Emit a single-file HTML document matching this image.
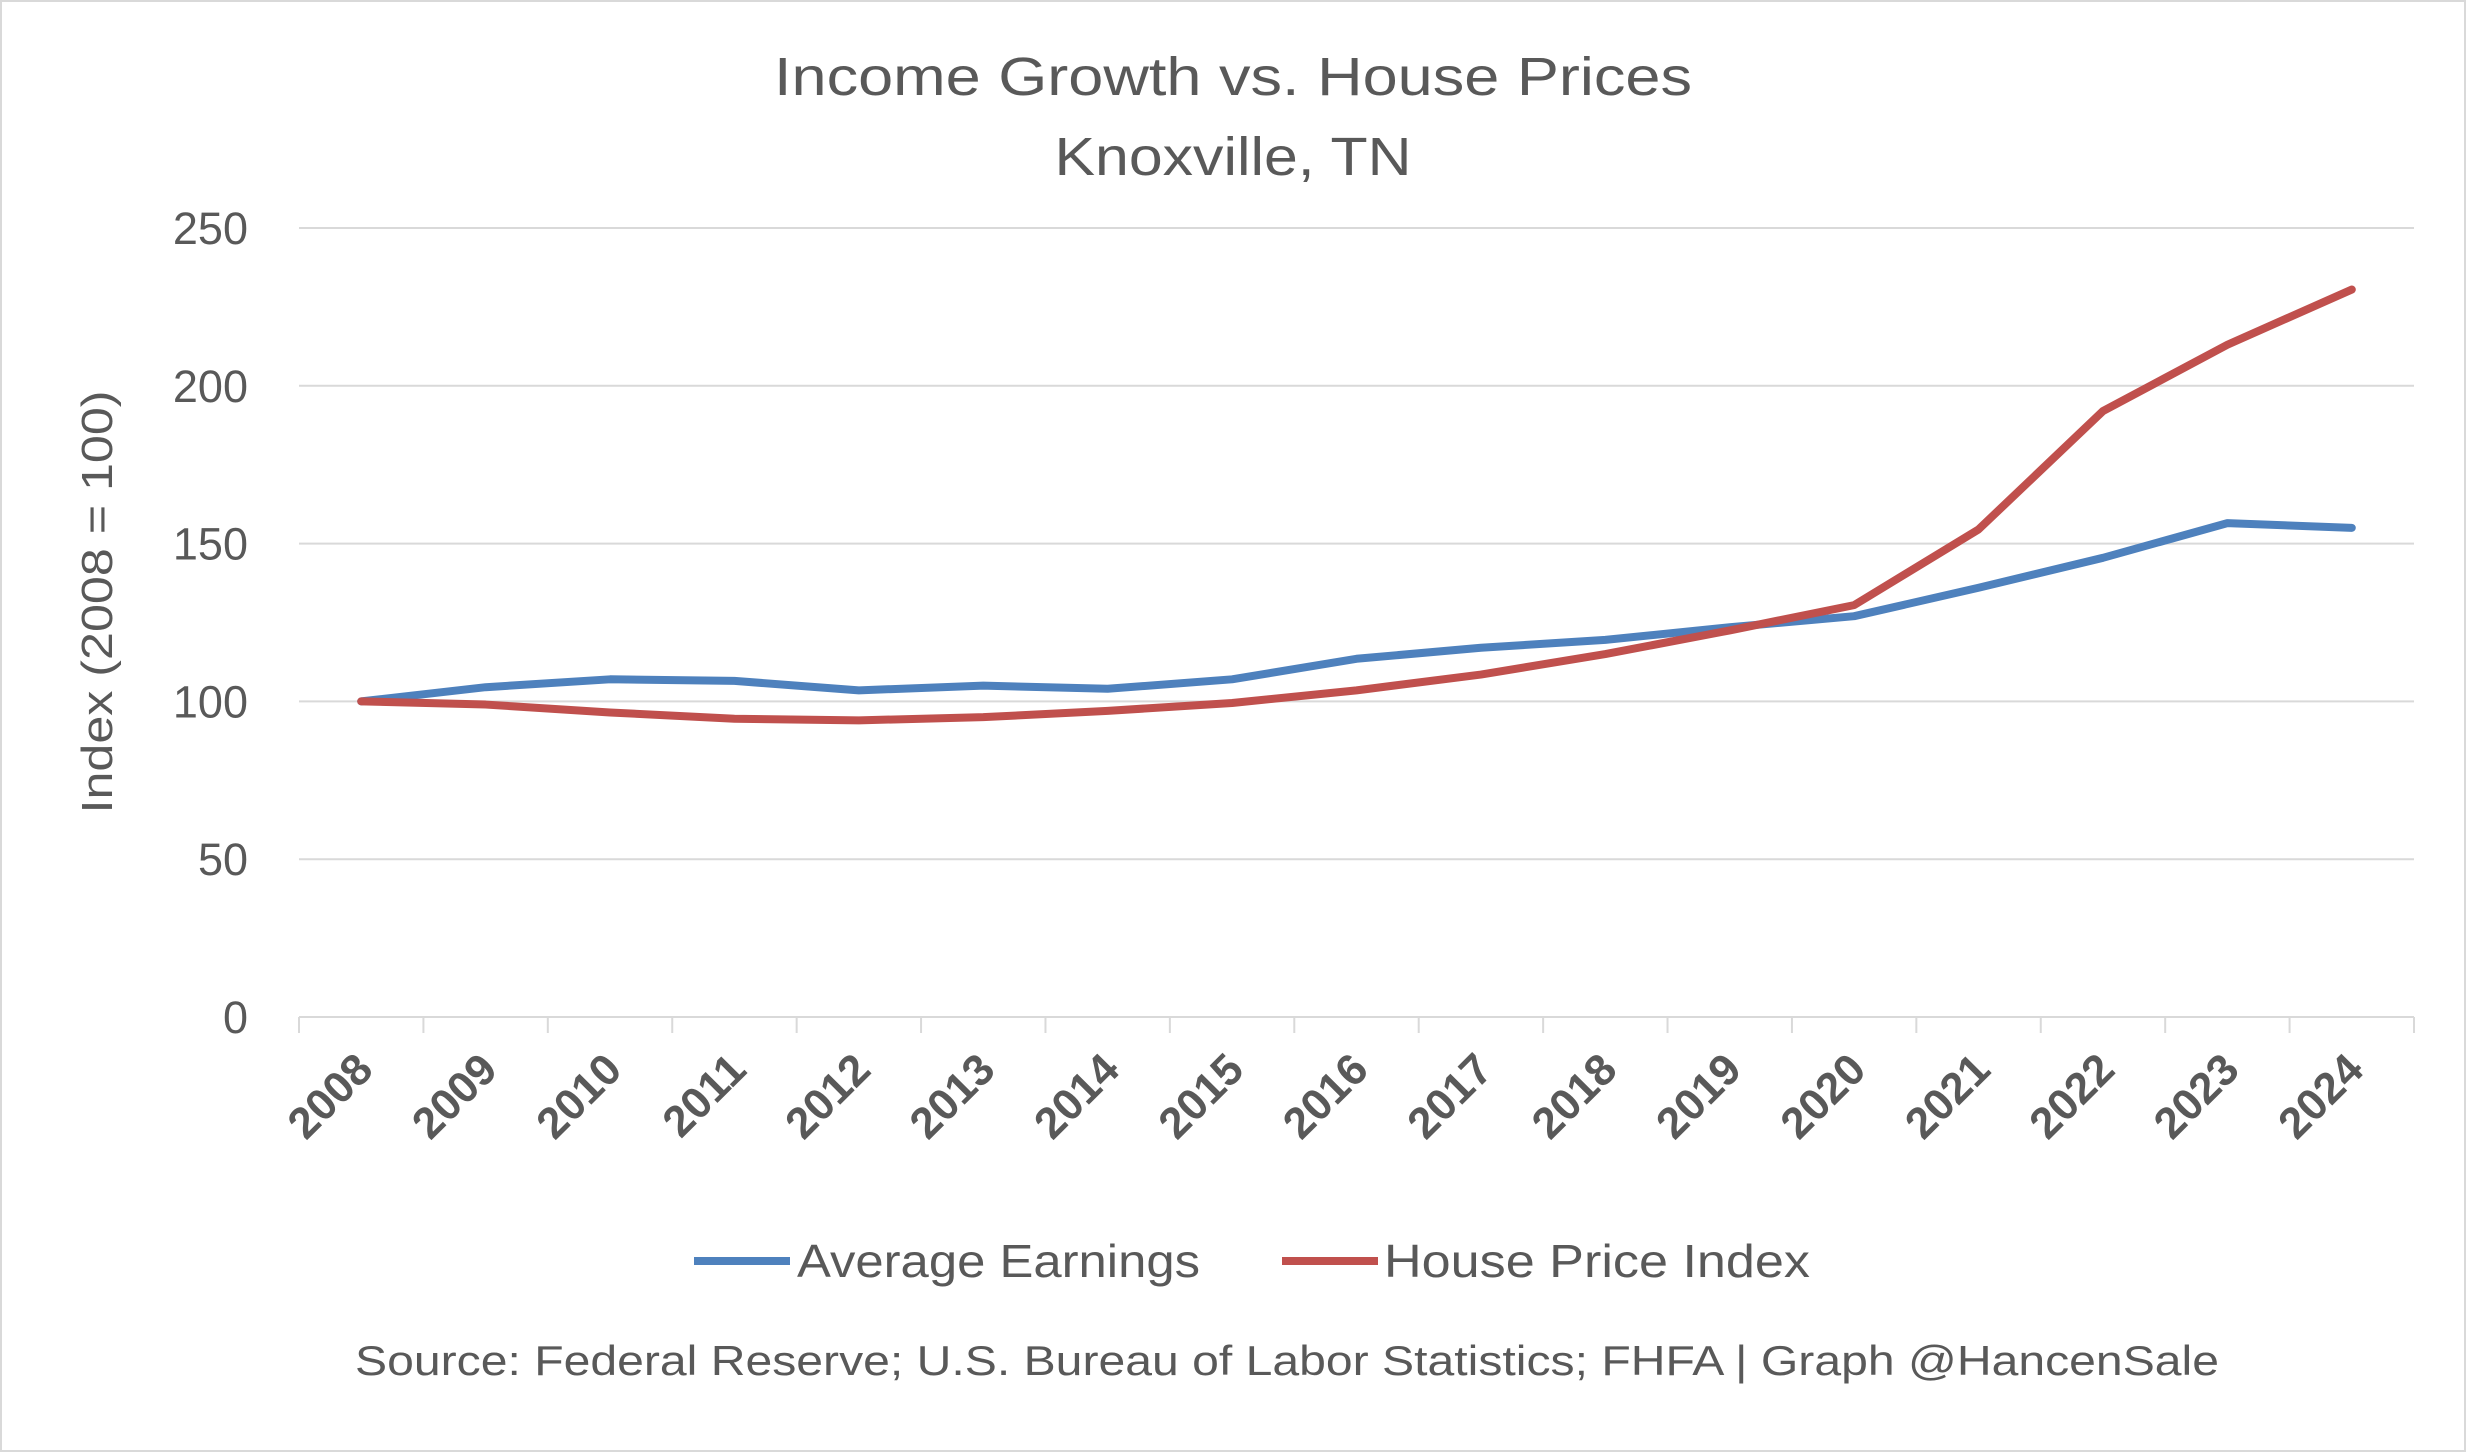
<!DOCTYPE html>
<html><head><meta charset="utf-8"><style>
html,body{margin:0;padding:0;background:#fff;}
svg{display:block;font-family:"Liberation Sans",sans-serif;}
</style></head><body>
<svg id="chart" width="2466" height="1452" viewBox="0 0 2466 1452" xmlns="http://www.w3.org/2000/svg">
<rect x="1" y="1" width="2464" height="1450" fill="#fff" stroke="#d9d9d9" stroke-width="2"/>
<text x="1233" y="95" text-anchor="middle" font-size="54" fill="#595959" textLength="918" lengthAdjust="spacingAndGlyphs">Income Growth vs. House Prices</text>
<text x="1233" y="175" text-anchor="middle" font-size="54" fill="#595959" textLength="357" lengthAdjust="spacingAndGlyphs">Knoxville, TN</text>
<text transform="translate(112,602) rotate(-90)" text-anchor="middle" font-size="44" fill="#595959" textLength="423" lengthAdjust="spacingAndGlyphs">Index (2008 = 100)</text>
<g id="grid"></g><g id="yticks"></g><g id="xaxis"></g><g id="series"></g>
<g>
<line x1="694" y1="1261" x2="790" y2="1261" stroke="#4E81BD" stroke-width="8"/>
<text x="797" y="1277" font-size="46" fill="#595959" textLength="403" lengthAdjust="spacingAndGlyphs">Average Earnings</text>
<line x1="1282" y1="1261" x2="1378" y2="1261" stroke="#C0504D" stroke-width="8"/>
<text x="1384" y="1277" font-size="46" fill="#595959" textLength="426" lengthAdjust="spacingAndGlyphs">House Price Index</text>
</g>
<text x="1287" y="1375" text-anchor="middle" font-size="42" fill="#595959" textLength="1864" lengthAdjust="spacingAndGlyphs">Source: Federal Reserve; U.S. Bureau of Labor Statistics; FHFA  |  Graph @HancenSale</text>
</svg>
<script>
const categories=["2008","2009","2010","2011","2012","2013","2014","2015","2016","2017","2018","2019","2020","2021","2022","2023","2024"];
const earnings=[100,104.5,107,106.5,103.5,105,104,107,113.5,117,119.5,123.5,127,136,145.5,156.5,155];
const hpi=[100,99,96.5,94.5,94,95,97,99.5,103.5,108.5,115,122.5,130.5,154.5,192,213,230.5];
const yTicks=[0,50,100,150,200,250];
const NS="http://www.w3.org/2000/svg";
const L=299,R=2414,T=228,B=1017;
const step=(R-L)/categories.length;
const xs=i=>L+step*(i+0.5);
const ys=v=>B-(v/250)*(B-T);
function mk(tag,attrs,parent){const e=document.createElementNS(NS,tag);for(const k in attrs)e.setAttribute(k,attrs[k]);parent.appendChild(e);return e;}
const grid=document.getElementById('grid'),yt=document.getElementById('yticks'),xa=document.getElementById('xaxis'),se=document.getElementById('series');
yTicks.forEach(v=>{
 if(v>0){const g=mk('line',{x1:L,x2:R,y1:ys(v),y2:ys(v),stroke:'#d9d9d9','stroke-width':2},grid);
 
 }
 const t=mk('text',{x:248,y:ys(v)+16,'text-anchor':'end','font-size':45,fill:'#595959'},yt);
 t.textContent=v;
 
 
});
const ax=mk('line',{x1:L,x2:R,y1:B,y2:B,stroke:'#d9d9d9','stroke-width':2},xa);


for(let i=0;i<=categories.length;i++){
 const tk=mk('line',{x1:L+step*i,x2:L+step*i,y1:B,y2:B+16,stroke:'#d9d9d9','stroke-width':2},xa);
 
 
}
categories.forEach((c,i)=>{
 const x=xs(i)+14,y=1072;
 const t=mk('text',{x:x,y:y,'text-anchor':'end','font-size':44,'font-weight':'bold',fill:'#595959',transform:`rotate(-45 ${x} ${y})`},xa);
 t.textContent=c;
 
 
});
function line(arr,color,name){
 const p=mk('polyline',{points:arr.map((v,i)=>xs(i)+','+ys(v)).join(' '),fill:'none',stroke:color,'stroke-width':8,'stroke-linejoin':'round','stroke-linecap':'round'},se);
 
 
}
line(earnings,'#4E81BD','earnings-line');
line(hpi,'#C0504D','house-price-line');
</script>
</body></html>
